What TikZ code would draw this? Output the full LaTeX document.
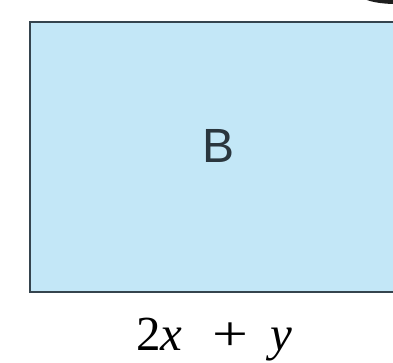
\documentclass[tikz,border=0pt]{standalone}
\usepackage{fontspec}
\usepackage{graphicx}
\newfontfamily\labelsans{Liberation Sans}
\newfontfamily\labelserif{Liberation Serif}
\definecolor{boxfill}{HTML}{C3E7F7}
\definecolor{boxedge}{HTML}{35444E}
\definecolor{blob}{HTML}{1E1E1E}
\tikzset{
  areabox/.style={fill=boxfill, draw=boxedge, line width=2pt},
  boxletter/.style={font=\labelsans\fontsize{48}{52}\selectfont, text=boxedge!80!black, inner sep=0pt},
  dimlabel/.style={font=\labelserif\fontsize{49}{54}\selectfont, anchor=base west, inner sep=0pt}
}
\begin{document}
\begin{tikzpicture}[x=1pt,y=-1pt]
  \useasboundingbox (0,0) rectangle (393,362);
  \clip (0,0) rectangle (393,362);
  \fill[blob] (396,-7) ellipse [x radius=38, y radius=11];
  \draw[areabox] (30,22) -- (400,22) -- (400,292) -- (30,292) -- cycle;
  \node[boxletter] (B) at (218.5,146) {B};
  \node[dimlabel] (dim) at (136,350) {2\textit{x}\kern30pt\scalebox{1.3}[1]{+}\kern22pt\textit{y}};
\end{tikzpicture}
\end{document}
